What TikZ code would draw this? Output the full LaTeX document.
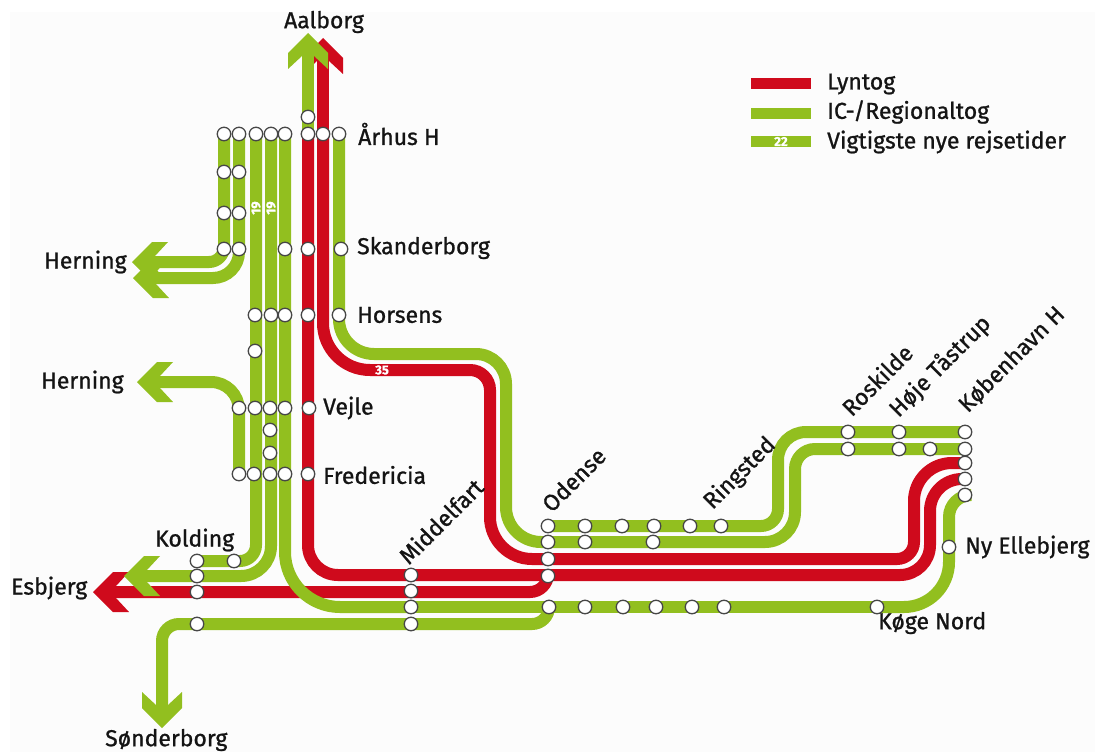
\documentclass[tikz,border=0pt]{standalone}
\usepackage{fontspec}
\setmainfont[FakeBold=1]{Fira Sans}
\pgfdeclarelayer{lines}
\pgfdeclarelayer{paper}
\pgfsetlayers{paper,lines,main}
\definecolor{gr}{HTML}{92BF1F}
\definecolor{rd}{HTML}{CF0A1C}
\definecolor{ink}{HTML}{141414}
\tikzset{
  stn/.style={circle,draw=black!72,fill=white,line width=1.3pt,minimum size=13.5pt,inner sep=0pt},
  ic/.style={draw=gr,line width=12pt},
  ly/.style={draw=rd,line width=12pt},
  lbl/.style={text=ink,font=\fontsize{23}{25}\selectfont,inner sep=0pt,anchor=west},
  rlbl/.style={lbl,rotate=45,anchor=south west},
  num/.style={text=white,font=\bfseries\fontsize{13}{14}\selectfont,inner sep=0pt},
}
\newcommand\chevron[3]{\fill[#1,shift={(#2)},rotate=#3] (0,0) -- (20,-20) -- (36,-20) -- (23,-6) -- (23,6) -- (36,20) -- (20,20) -- cycle;}
\begin{document}
\begin{tikzpicture}[x=1pt,y=-1pt]
\useasboundingbox (0,0) rectangle (1095,752);
\begin{pgfonlayer}{paper}
\fill[white] (0,0) rectangle (1095,752);
\fill[black!1] (10,12) rectangle (1095,752);
\end{pgfonlayer}
% stations
\foreach \x/\y in {224/134,239/134,256/134,271/134,285/134,308/134,323/134,339/134,308/117,
  224/172,239/172,224/213,239/213,224/249,239/249,285/249,308/249,341/249,
  255/315,271/315,285/315,308/315,339/315,255/351,
  239/408,255/408,270/408,285/408,309/408,270/430,270/453,
  239/474,254/474,270/474,285/474,308/474,
  197/561,234/561,197/576,197/592,197/624,
  411/575,411/591,411/607,411/624,
  548/526,548/542,548/559,548/576,549/607,
  585/526,622/526,654/526,690/526,721/526,585/542,653/542,
  585/607,623/607,656/607,692/607,724/607,877/607,
  848/432,848/449,899/432,899/449,930/449,
  965/432,965/449,965/463,965/479,965/495,949/547}
  {\node[stn] (s\x-\y) at (\x,\y) {};}
% free ends and bends
\coordinate (aalG) at (308,33);
\coordinate (aalR) at (323,38);
\coordinate (esbG) at (124,576);
\coordinate (esbR) at (93,592);
\coordinate (sonA) at (162,728);
\coordinate (her1) at (132,262);
\coordinate (her2) at (133,278);
\coordinate (her3) at (137,382);
\coordinate (k35) at (382,370);
\coordinate (k354) at (420,354);
\coordinate (v490) at (490,450);
\coordinate (v506) at (506,450);
\coordinate (v914) at (914,510);
\coordinate (v930) at (930,520);
\coordinate (v778) at (778,480);
\coordinate (v795) at (795,490);
\node[num] (n35) at (k35) {35};
\node[num,rotate=90] (n19a) at (256,208) {19};
\node[num,rotate=90] (n19b) at (271,208) {19};
% lines
\begin{pgfonlayer}{lines}
\chevron{rd}{aalR}{-90}
\draw[ly] ([yshift=-15pt]aalR) -- (s323-134.center);
\draw[ic] ([yshift=-15pt]aalG) -- (s308-134.center);
\chevron{gr}{aalG}{-90}
\draw[ly,rounded corners=30] (s308-134.center) |- (s411-575.center) -- (v930 |- s411-575.center) -- (v930);
\draw[ly,rounded corners=32] (v930) |- (s965-479.center);
\draw[ly,rounded corners=47] (s323-134.center) |- (k35);
\draw[ly,rounded corners=20] (k35) -| (v490);
\draw[ly,rounded corners=42] (v490) |- (s548-559.center);
\draw[ly,rounded corners=17] (s548-559.center) -| (v914);
\draw[ly,rounded corners=38] (v914) |- (s965-463.center);
\draw[ly,rounded corners=18] ([xshift=15pt]esbR) -- (s197-592.center) -| (s548-576.center);
\chevron{rd}{esbR}{0}
\draw[ic,rounded corners=35] (s339-134.center) |- (k354);
\draw[ic,rounded corners=30] (k354) -| (v506);
\draw[ic,rounded corners=35] (v506) |- (s548-542.center);
\draw[ic,rounded corners=30] (s548-542.center) -| (v795);
\draw[ic,rounded corners=20] (v795) |- (s965-449.center);
\draw[ic,rounded corners=17] (s548-526.center) -| (v778);
\draw[ic,rounded corners=28] (v778) |- (s965-432.center);
\draw[ic,rounded corners=55] (s285-134.center) |- (s411-607.center);
\draw[ic] (s411-607.center) -- (s877-607.center);
\draw[ic,rounded corners=45] (s877-607.center) -| (s949-547.center);
\draw[ic,rounded corners=22] (s949-547.center) |- (s965-495.center);
\draw[ic,rounded corners=17] (s549-607.center) |- (s411-624.center) -- (s197-624.center) -| ([yshift=15pt]sonA);
\chevron{gr}{sonA}{90}
\draw[ic,rounded corners=16] (s256-134.center) |- (s197-561.center);
\draw[ic,rounded corners=30] (s271-134.center) |- (s197-576.center) -- ([xshift=15pt]esbG);
\chevron{gr}{esbG}{0}
\draw[ic,rounded corners=15] (s224-134.center) |- ([xshift=15pt]her1);
\draw[ic,rounded corners=26] (s239-134.center) |- ([xshift=15pt]her2);
\chevron{gr}{her1}{0}
\chevron{gr}{her2}{0}
\draw[ic,rounded corners=28] (s239-474.center) |- ([xshift=15pt]her3);
\chevron{gr}{her3}{0}
\end{pgfonlayer}
% labels
\node[lbl,anchor=center] (tAal) at (324,22) {Aalborg};
\node[lbl] (tAar) at (358,134) {Århus H};
\node[lbl] (tSka) at (357,248) {Skanderborg};
\node[lbl] (tHor) at (357,315) {Horsens};
\node[lbl] (tVej) at (323,408) {Vejle};
\node[lbl] (tFre) at (323,475) {Fredericia};
\node[lbl] (tHe1) at (44,262) {Herning};
\node[lbl] (tHe2) at (41,382) {Herning};
\node[lbl] (tKol) at (155,540) {Kolding};
\node[lbl] (tEsb) at (11,588) {Esbjerg};
\node[lbl] (tSon) at (105,740) {Sønderborg};
\node[lbl] (tNyE) at (965,547) {Ny Ellebjerg};
\node[lbl] (tKog) at (878,623) {Køge Nord};
\node[rlbl] (tMid) at (409,566) {Middelfart};
\node[rlbl] (tOde) at (552,514) {Odense};
\node[rlbl] (tRin) at (716,514) {Ringsted};
\node[rlbl] (tRos) at (852,418) {Roskilde};
\node[rlbl] (tHoj) at (902,422) {Høje Tåstrup};
\node[rlbl] (tKob) at (970,416) {København H};
% legend
\fill[rd] (751,78) rectangle (811,89);
\fill[gr] (751,108) rectangle (811,119);
\fill[gr] (751,136) rectangle (811,147);
\node[num] (n22) at (781,141.5) {22};
\node[lbl] (tL1) at (827,84) {Lyntog};
\node[lbl] (tL2) at (827,112) {IC-/Regionaltog};
\node[lbl] (tL3) at (827,142) {Vigtigste nye rejsetider};
\end{tikzpicture}
\end{document}
